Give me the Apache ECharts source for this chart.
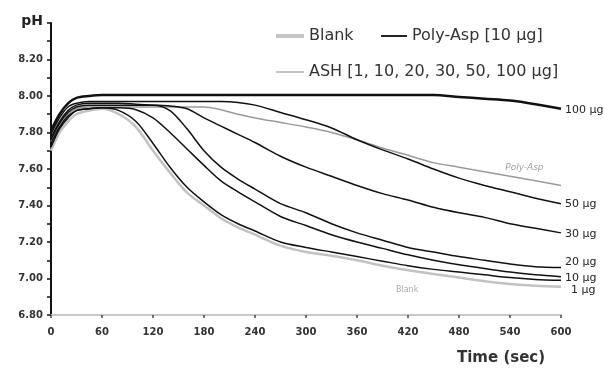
<!DOCTYPE html>
<html><head><meta charset="utf-8">
<script src="https://cdn.jsdelivr.net/npm/echarts@6/dist/echarts.min.js"></script>
<style>html,body{margin:0;padding:0;background:#fff}#c{width:604px;height:374px}</style>
</head><body><div id="c"></div>
<script>
const times = [0,10,20,30,45,60,80,100,120,140,160,180,200,220,240,270,300,330,360,390,420,450,480,510,540,570,600];
const blank  = [7.70,7.80,7.86,7.90,7.92,7.93,7.90,7.83,7.70,7.58,7.47,7.40,7.33,7.28,7.24,7.18,7.145,7.125,7.10,7.07,7.045,7.025,7.005,6.985,6.97,6.96,6.955];
const ash1   = [7.72,7.82,7.88,7.92,7.93,7.935,7.92,7.86,7.74,7.61,7.50,7.42,7.35,7.30,7.26,7.20,7.17,7.145,7.12,7.095,7.07,7.05,7.035,7.02,7.005,6.995,6.99];
const ash10  = [7.74,7.83,7.89,7.92,7.93,7.935,7.935,7.925,7.88,7.80,7.71,7.62,7.535,7.475,7.42,7.34,7.29,7.24,7.20,7.165,7.13,7.10,7.075,7.055,7.035,7.02,7.01];
const ash20  = [7.76,7.85,7.91,7.94,7.95,7.95,7.95,7.95,7.95,7.92,7.82,7.70,7.61,7.545,7.49,7.41,7.36,7.30,7.25,7.21,7.17,7.145,7.12,7.10,7.08,7.065,7.06];
const ash30  = [7.77,7.86,7.92,7.95,7.96,7.96,7.96,7.955,7.95,7.945,7.93,7.88,7.835,7.79,7.745,7.67,7.61,7.56,7.51,7.465,7.43,7.39,7.36,7.335,7.30,7.275,7.25];
const ash50  = [7.79,7.88,7.94,7.96,7.97,7.97,7.97,7.97,7.97,7.97,7.97,7.97,7.97,7.965,7.95,7.91,7.87,7.825,7.76,7.705,7.655,7.60,7.55,7.51,7.475,7.44,7.41];
const ash100 = [7.81,7.90,7.96,7.99,8.00,8.005,8.005,8.005,8.005,8.005,8.005,8.005,8.005,8.005,8.005,8.005,8.005,8.005,8.005,8.005,8.005,8.005,7.995,7.985,7.975,7.955,7.93];
const polyAsp = [7.75,7.84,7.90,7.93,7.94,7.94,7.94,7.94,7.94,7.94,7.94,7.94,7.925,7.90,7.88,7.855,7.83,7.80,7.76,7.715,7.675,7.635,7.61,7.585,7.56,7.535,7.51];
const xTicks = [0,60,120,180,240,300,360,420,480,540,600];
const legendNames = ['Blank','Poly-Asp [10 μg]','ASH [1, 10, 20, 30, 50, 100 μg]'];
const ashNames = ['1 μg','10 μg','20 μg','30 μg','50 μg','100 μg'];
const ashData = [ash1, ash10, ash20, ash30, ash50, ash100];
const polyLabel = ['Poly-Asp', 557, 7.61];
const blankLabel = ['Blank', 419, 6.937];

const FONT = 'DejaVu Sans';
const pair = arr => times.map((t,i)=>[t,arr[i]]);
const endOffsets = [[6,10],[0,1],[0,-5],[0,1],[0,0],[0,1]];

const series = [];
series.push({name:legendNames[0],type:'line',data:[],symbol:'none',lineStyle:{color:'#c4c4c4',width:4},itemStyle:{color:'#c4c4c4'}});
series.push({name:legendNames[1],type:'line',data:[],symbol:'none',lineStyle:{color:'#222',width:1.5},itemStyle:{color:'#222'}});
series.push({name:legendNames[2],type:'line',data:[],symbol:'none',lineStyle:{color:'#c4c4c4',width:1.5},itemStyle:{color:'#c4c4c4'}});
series.push({name:'blank-curve',type:'line',data:pair(blank),symbol:'none',smooth:0.3,z:1,
  lineStyle:{color:'#c2c2c2',width:2.5},
  markPoint:{symbol:'circle',symbolSize:0,silent:true,
    label:{show:true,position:'inside',formatter:blankLabel[0],fontFamily:FONT,fontSize:8,color:'#aaa'},
    data:[{coord:[blankLabel[1],blankLabel[2]]}]}});
series.push({name:'poly-curve',type:'line',data:pair(polyAsp),symbol:'none',smooth:0.3,z:2,
  lineStyle:{color:'#9a9a9a',width:1.5},
  markPoint:{symbol:'circle',symbolSize:0,silent:true,
    label:{show:true,position:'inside',formatter:polyLabel[0],fontFamily:FONT,fontSize:9,fontStyle:'italic',color:'#a0a0a0'},
    data:[{coord:[polyLabel[1],polyLabel[2]]}]}});
ashData.forEach((d,i)=>{
  series.push({name:ashNames[i],type:'line',data:pair(d),symbol:'none',smooth:0.3,z:3,
    lineStyle:{color:'#111',width:i===5?2.5:1.5},
    endLabel:{show:true,formatter:ashNames[i],fontFamily:FONT,fontSize:11,color:'#222',distance:4,offset:endOffsets[i]}});
});

const legTxt = {fontFamily:FONT,fontSize:16,color:'#333'};
const chart = echarts.init(document.getElementById('c'),null,{renderer:'canvas'});
chart.setOption({
  animation:false,
  backgroundColor:'#fff',
  grid:{left:51,right:43,top:23,bottom:59},
  legend:[
    {data:[{name:legendNames[0],icon:'rect'}],left:271,top:23,itemWidth:28,itemHeight:4,textStyle:legTxt,selectedMode:false},
    {data:[{name:legendNames[1],icon:'rect'}],left:376,top:23,itemWidth:26,itemHeight:2,textStyle:legTxt,selectedMode:false},
    {data:[{name:legendNames[2],icon:'rect'}],left:271,top:59,itemWidth:28,itemHeight:2,textStyle:legTxt,selectedMode:false}
  ],
  title:{text:'Time (sec)',left:452,top:346,textStyle:{fontFamily:FONT,fontSize:15,fontWeight:'bold',color:'#333'}},
  xAxis:{type:'value',min:0,max:600,interval:60,
    axisLine:{lineStyle:{color:'#c8c8c8',width:2}},
    axisTick:{show:true,length:3,lineStyle:{color:'#444',width:1.5}},
    splitLine:{show:false},
    axisLabel:{fontFamily:FONT,fontSize:10,fontWeight:'bold',color:'#333',margin:12,
      formatter:v=>xTicks.includes(Math.round(v))?String(Math.round(v)):''}},
  yAxis:{type:'value',min:6.8,max:8.4,interval:0.1,
    axisLine:{show:true,lineStyle:{color:'#111',width:2}},
    axisTick:{show:true,length:4,lineStyle:{color:'#111',width:1.5}},
    splitLine:{show:false},
    axisLabel:{fontFamily:FONT,fontSize:10,fontWeight:'bold',color:'#333',margin:8,
      formatter:v=>{const k=Math.round(v*10); if(k===84) return '{p|pH}'; return k%2===0?(k/10).toFixed(2):'';},
      rich:{p:{fontFamily:FONT,fontSize:14,fontWeight:'bold',color:'#222',padding:[0,0,4,0]}}}},
  series:series
});
</script></body></html>
